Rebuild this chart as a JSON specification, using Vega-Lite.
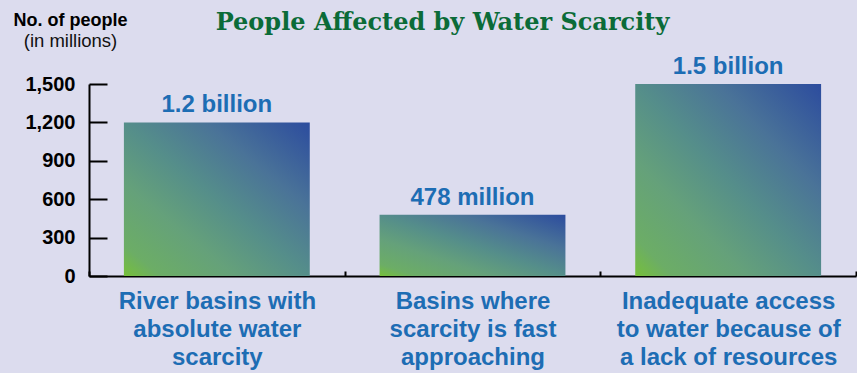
{
  "$schema": "https://vega.github.io/schema/vega-lite/v6.json",
  "width": 767,
  "height": 192,
  "autosize": "none",
  "padding": {"left": 89, "top": 84, "right": 1, "bottom": 97},
  "background": "#dcdcee",
  "title": {
    "text": "People Affected by Water Scarcity",
    "font": "DejaVu Serif",
    "fontSize": 24,
    "fontWeight": "bold",
    "color": "#0b6b38",
    "anchor": "middle",
    "baseline": "alphabetic",
    "dx": -30,
    "dy": 53,
    "offset": 10
  },
  "config": {
    "view": {"stroke": null},
    "axis": {"grid": false}
  },
  "data": {
    "values": [
      {"category": "River basins with|absolute water|scarcity", "people": 1200, "label": "1.2 billion"},
      {"category": "Basins where|scarcity is fast|approaching", "people": 478, "label": "478 million"},
      {"category": "Inadequate access|to water because of|a lack of resources", "people": 1500, "label": "1.5 billion"}
    ]
  },
  "encoding": {
    "x": {
      "field": "category",
      "type": "nominal",
      "sort": null,
      "scale": {"paddingInner": 0, "paddingOuter": 0},
      "axis": {
        "title": "(in millions)",
        "titleFont": "Liberation Sans",
        "titleFontSize": 18.5,
        "titleFontWeight": "normal",
        "titleColor": "#111111",
        "titleAlign": "center",
        "titleBaseline": "alphabetic",
        "titleX": -19,
        "titleY": -230,
        "labelExpr": "split(datum.label, '|')",
        "labelAngle": 0,
        "labelFont": "Liberation Sans",
        "labelFontSize": 24,
        "labelFontWeight": "bold",
        "labelColor": "#1d6db4",
        "labelBaseline": "top",
        "labelLineHeight": 28,
        "labelPadding": 18,
        "labelLimit": 400,
        "domainColor": "#000000",
        "domainWidth": 2,
        "tickBand": "extent",
        "tickSize": -5,
        "tickWidth": 2,
        "tickColor": "#000000"
      }
    },
    "y": {
      "field": "people",
      "type": "quantitative",
      "scale": {"domain": [0, 1500], "nice": false},
      "axis": {
        "title": "No. of people",
        "titleFont": "Liberation Sans",
        "titleFontSize": 18,
        "titleFontWeight": "bold",
        "titleColor": "#000000",
        "titleAngle": 0,
        "titleAlign": "center",
        "titleBaseline": "alphabetic",
        "titleX": -19,
        "titleY": -59,
        "values": [0, 300, 600, 900, 1200, 1500],
        "format": ",.0f",
        "labelFont": "Liberation Sans",
        "labelFontSize": 20,
        "labelFontWeight": "bold",
        "labelColor": "#000000",
        "labelPadding": 32,
        "domainColor": "#000000",
        "domainWidth": 2,
        "tickSize": -18,
        "tickWidth": 2,
        "tickColor": "#000000"
      }
    }
  },
  "layer": [
    {
      "mark": {
        "type": "bar",
        "width": {"band": 0.727},
        "color": {
          "gradient": "linear",
          "x1": 0, "y1": 1, "x2": 1, "y2": 0,
          "stops": [
            {"offset": 0, "color": "#76c03a"},
            {"offset": 0.1, "color": "#6cad66"},
            {"offset": 0.3, "color": "#65a17a"},
            {"offset": 0.5, "color": "#558e8a"},
            {"offset": 0.72, "color": "#4a7398"},
            {"offset": 1, "color": "#2c4c9e"}
          ]
        }
      }
    },
    {
      "mark": {
        "type": "text",
        "font": "Liberation Sans",
        "fontSize": 24,
        "fontWeight": "bold",
        "color": "#1d6db4",
        "baseline": "alphabetic",
        "dy": -10
      },
      "encoding": {"text": {"field": "label"}}
    }
  ]
}
